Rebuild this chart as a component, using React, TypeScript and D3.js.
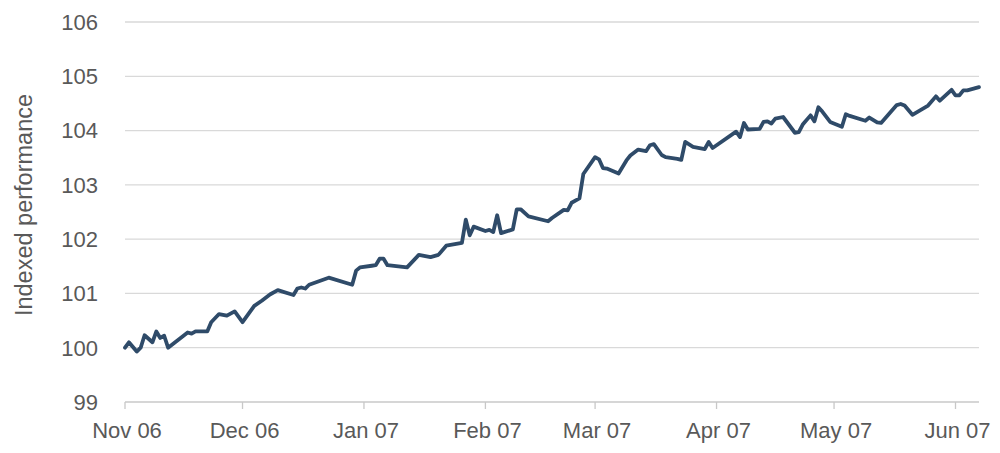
import React from "react";
import * as d3 from "d3";

const dates: string[] = [
  "2006-11-01","2006-11-02","2006-11-04","2006-11-05","2006-11-06","2006-11-08","2006-11-09","2006-11-10","2006-11-11","2006-11-12",
  "2006-11-17","2006-11-18","2006-11-19","2006-11-22","2006-11-23","2006-11-25","2006-11-27","2006-11-29","2006-12-01","2006-12-04",
  "2006-12-06","2006-12-08","2006-12-10","2006-12-14","2006-12-15","2006-12-16","2006-12-17","2006-12-18","2006-12-23","2006-12-29",
  "2006-12-30","2006-12-31","2007-01-03","2007-01-04","2007-01-05","2007-01-06","2007-01-07","2007-01-12","2007-01-15","2007-01-18",
  "2007-01-20","2007-01-22","2007-01-26","2007-01-27","2007-01-28","2007-01-29","2007-02-01","2007-02-02","2007-02-03","2007-02-04",
  "2007-02-05","2007-02-08","2007-02-09","2007-02-10","2007-02-12","2007-02-17","2007-02-18","2007-02-21","2007-02-22","2007-02-23",
  "2007-02-25","2007-02-26","2007-03-01","2007-03-02","2007-03-03","2007-03-04","2007-03-07","2007-03-09","2007-03-10","2007-03-12",
  "2007-03-14","2007-03-15","2007-03-16","2007-03-18","2007-03-19","2007-03-22","2007-03-23","2007-03-24","2007-03-26","2007-03-29",
  "2007-03-30","2007-03-31","2007-04-06","2007-04-07","2007-04-08","2007-04-09","2007-04-12","2007-04-13","2007-04-14","2007-04-15",
  "2007-04-16","2007-04-18","2007-04-21","2007-04-22","2007-04-23","2007-04-25","2007-04-26","2007-04-27","2007-04-28","2007-04-30",
  "2007-05-03","2007-05-04","2007-05-05","2007-05-09","2007-05-10","2007-05-12","2007-05-13","2007-05-17","2007-05-18","2007-05-19",
  "2007-05-21","2007-05-25","2007-05-27","2007-05-28","2007-05-31","2007-06-01","2007-06-02","2007-06-03","2007-06-04","2007-06-07",
];

const values: number[] = [
  100.0, 100.1, 99.93, 100.0, 100.23, 100.1, 100.3, 100.18, 100.22, 100.0,
  100.28, 100.26, 100.3, 100.3, 100.47, 100.62, 100.59, 100.67, 100.47, 100.77,
  100.87, 100.98, 101.06, 100.97, 101.09, 101.11, 101.09, 101.16, 101.29, 101.16,
  101.42, 101.48, 101.51, 101.52, 101.64, 101.64, 101.52, 101.48, 101.71, 101.67,
  101.71, 101.88, 101.93, 102.36, 102.07, 102.23, 102.15, 102.17, 102.13, 102.44,
  102.11, 102.18, 102.55, 102.55, 102.42, 102.33, 102.39, 102.54, 102.53, 102.67,
  102.75, 103.2, 103.51, 103.47, 103.31, 103.3, 103.21, 103.45, 103.54, 103.65,
  103.62, 103.73, 103.75, 103.55, 103.51, 103.48, 103.46, 103.79, 103.7, 103.66,
  103.79, 103.68, 103.98, 103.88, 104.14, 104.02, 104.03, 104.16, 104.17, 104.13,
  104.22, 104.25, 103.96, 103.97, 104.11, 104.28, 104.17, 104.43, 104.35, 104.16,
  104.07, 104.3, 104.27, 104.18, 104.24, 104.15, 104.14, 104.47, 104.49, 104.46,
  104.29, 104.46, 104.63, 104.55, 104.75, 104.65, 104.65, 104.74, 104.74, 104.8,
];

const yTicks: number[] = [99, 100, 101, 102, 103, 104, 105, 106];
const monthTicks: string[] = ["2006-11-01","2006-12-01","2007-01-01","2007-02-01","2007-03-01","2007-04-01","2007-05-01","2007-06-01"];
const monthLabels: string[] = ["Nov 06","Dec 06","Jan 07","Feb 07","Mar 07","Apr 07","May 07","Jun 07"];
const domainStart = "2006-11-01";
const domainEnd = "2007-06-07";
const yTitle = "Indexed performance";

const parse = d3.timeParse("%Y-%m-%d");

export default function App() {
  const W = 1000, H = 453;
  const left = 125, right = 979, top = 22, bottom = 402;
  const x = d3.scaleTime().domain([parse(domainStart)!, parse(domainEnd)!]).range([left, right]);
  const y = d3.scaleLinear().domain([99, 106]).range([bottom, top]);
  const pts = dates.map((d, i) => ({ d: parse(d)!, v: values[i] }));
  const line = d3.line<{ d: Date; v: number }>().x(p => x(p.d)).y(p => y(p.v));
  const font = "'Liberation Sans', Arial, sans-serif";
  const textColor = "#595959";
  return (
    <svg width={W} height={H} style={{ position: "absolute", left: 0, top: 0, background: "#fff" }} fontFamily={font}>
      {yTicks.map(t => (
        <g key={t}>
          {t !== 99 && <line x1={left} x2={right} y1={y(t)} y2={y(t)} stroke="#d9d9d9" strokeWidth={1.3} />}
          <text x={98} y={y(t)} dy="0.36em" textAnchor="end" fontSize={22} fill={textColor}>{t}</text>
        </g>
      ))}
      <line x1={left} x2={right} y1={bottom} y2={bottom} stroke="#c8c8c8" strokeWidth={1.3} />
      {monthTicks.map((m, i) => {
        const xp = x(parse(m)!);
        return (
          <g key={m}>
            <line x1={xp} x2={xp} y1={bottom} y2={bottom + 7} stroke="#c8c8c8" strokeWidth={1.3} />
            <text x={xp + 2} y={438} textAnchor="middle" fontSize={22} fill={textColor}>{monthLabels[i]}</text>
          </g>
        );
      })}
      <text transform={`translate(32,205) rotate(-90)`} textAnchor="middle" fontSize={23.5} fill={textColor}>{yTitle}</text>
      <path d={line(pts) || ""} fill="none" stroke="#2f4b69" strokeWidth={3.8} strokeLinejoin="round" strokeLinecap="round" />
    </svg>
  );
}
